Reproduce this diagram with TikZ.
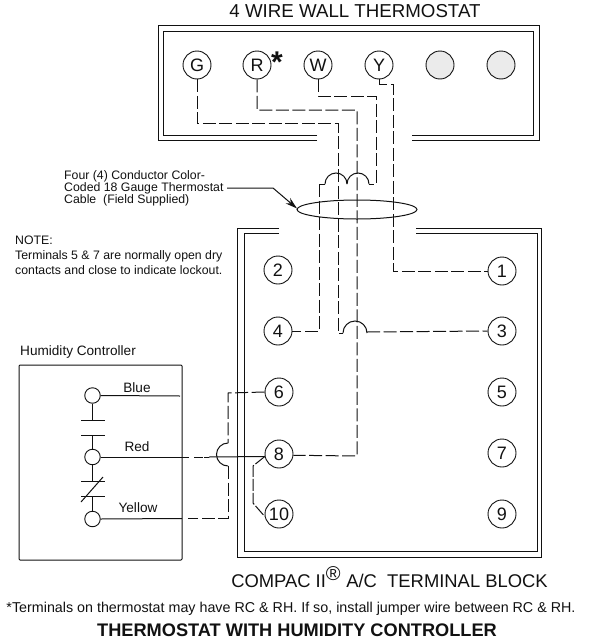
\documentclass[tikz,border=0pt]{standalone}
\usepackage{fontspec}
\setmainfont{Liberation Sans}
\usetikzlibrary{arrows.meta}
\definecolor{ink}{HTML}{111111}
\tikzset{
  x=1pt,y=-1pt,
  term/.style={draw=ink,circle,line width=.9pt,minimum size=28pt,inner sep=0pt,font=\fontsize{18}{18}\selectfont,text=ink},
  blank/.style={term,fill=black!8},
  small/.style={term,minimum size=15.5pt},
  wall/.style={draw=ink,line width=1pt},
  dwire/.style={draw=ink,line width=1pt,dash pattern=on 13pt off 3.5pt},
  swire/.style={draw=ink,line width=1pt},
  lab/.style={inner sep=0pt,text=ink,font=\fontsize{12.3}{12}\selectfont,align=left},
  hlab/.style={inner sep=0pt,text=ink,font=\fontsize{13.6}{14}\selectfont},
}
\begin{document}
\begin{tikzpicture}
\useasboundingbox (0,0) rectangle (590,640);
% thermostat
\draw[wall] (317,140) -- (158,140) -- (158,25) -- (539,25) -- (539,140) -- (412,140);
\draw[wall] (317,135) -- (163,135) -- (163,31) -- (533,31) -- (533,135) -- (412,135);
\node[term] (G) at (197,65) {G};
\node[term] (R) at (257,65) {R};
\node[term] (W) at (318,65) {W};
\node[term] (Y) at (379,65) {Y};
\node[blank] (b1) at (440,65) {};
\node[blank] (b2) at (501,65) {};
\node[inner sep=0pt,text=ink,font=\fontsize{30}{30}\bfseries\selectfont] (star) at (277,62) {*};
\node[inner sep=0pt,text=ink,font=\fontsize{18.7}{19}\selectfont] (title) at (355,11) {4 WIRE WALL THERMOSTAT};
% terminal block
\draw[wall] (279,228) -- (237,228) -- (237,557) -- (541,557) -- (541,228) -- (416,228);
\draw[wall] (279,233) -- (244,233) -- (244,551) -- (537,551) -- (537,233) -- (416,233);
\node[term] (t2) at (278,270) {2};
\node[term] (t4) at (278,331) {4};
\node[term] (t6) at (279,392) {6};
\node[term] (t8) at (279,454) {8};
\node[term] (t10) at (279,514) {10};
\node[term] (t1) at (502,271) {1};
\node[term] (t3) at (502,331) {3};
\node[term] (t5) at (502,392) {5};
\node[term] (t7) at (502,453) {7};
\node[term] (t9) at (502,514) {9};
% cable wires
\draw[dwire] (G.south) -- (197,123) -- (338,123) -- (338,333) -- (343,333);
\draw[swire] (343,333) arc[start angle=180,end angle=360,radius=12];
\draw[dwire] (367,332) -- (t3.west);
\draw[dwire] (R.south) -- (257,110) -- (357,110) -- (357,456) -- (t8.-5);
\draw[dwire] (W.south) -- (318,96) -- (376,96) -- (376,184) -- (369,184);
\draw[swire] (369,184) arc[start angle=0,end angle=-180,radius=11];
\draw[swire] (347,184) arc[start angle=0,end angle=-180,radius=11];
\draw[swire] (325,184) -- (319,184);
\draw[dwire] (319,184) -- (319,331) -- (t4.east);
\draw[dwire] (Y.south) -- (379,84) -- (393,84) -- (393,271) -- (t1.west);
\draw[ink,line width=1pt] (357,209.5) ellipse[x radius=60,y radius=9.5];
% cable label
\coordinate (arrowend) at (297,208.5);
\node[lab,anchor=west] (cable) at (64,188) {Four (4) Conductor Color-\\Coded 18 Gauge Thermostat\\Cable \ (Field Supplied)};
\coordinate (cablestart) at (227,188);
\coordinate (bend) at (273,188);
\draw[swire,-{Stealth[length=12pt,width=7pt]}] (cablestart) -- (bend) -- (arrowend);
\node[lab,anchor=west,font=\fontsize{12.3}{15}\selectfont] (note) at (15,255) {NOTE:\\Terminals 5 \& 7 are normally open dry\\contacts and close to indicate lockout.};
% humidity controller
\node[hlab,anchor=west] (hctitle) at (20,352) {Humidity Controller};
\draw[swire,rounded corners=1pt] (19,365) rectangle (182,560);
\node[small] (cb) at (92.5,395.5) {};
\node[small] (cr) at (92.5,457) {};
\node[small] (cy) at (92.5,519) {};
\coordinate (p1) at (92.5,420);
\coordinate (p2) at (92.5,435);
\coordinate (p3) at (92.5,481);
\coordinate (p4) at (92.5,496);
\coordinate (q1l) at (81,420); \coordinate (q1r) at (105,420);
\coordinate (q2l) at (81,435); \coordinate (q2r) at (105,435);
\coordinate (q3l) at (81,481); \coordinate (q3r) at (105,481);
\coordinate (q4l) at (81,496); \coordinate (q4r) at (105,496);
\draw[swire] (cb) -- (p1);
\draw[swire] (q1l) -- (q1r);
\draw[swire] (q2l) -- (q2r);
\draw[swire] (p2) -- (cr);
\draw[swire] (cr) -- (p3);
\draw[swire] (q3l) -- (q3r);
\draw[swire] (q4l) -- (q4r);
\draw[swire] (81,502) -- (103,477);
\draw[swire] (p4) -- (cy);
\draw[swire] (cb.east) -- (180,396);
\node[hlab] (blue) at (137,388) {Blue};
\node[hlab] (red) at (137,447) {Red};
\node[hlab] (yellow) at (138,508) {Yellow};
\draw[swire] (cr.east) -- (182,457);
\draw[swire] (cy.east) -- (182,518.5);
% humidity wires
\draw[draw=ink,line width=1pt,dash pattern=on 7pt off 5pt on 9pt off 1pt] (182,457) -- (209,457);
\draw[swire] (209,457) -- (t8.190);
\draw[dwire] (t6.west) -- (228,393) -- (228,443);
\draw[swire] (228,443) arc[start angle=-90,end angle=-270,radius=11.5];
\draw[dwire] (228,466) -- (228,518.5) -- (188,518.5);
\draw[dwire,dash pattern=on 12pt off 2pt] (t8.190) -- (253,466) -- (253,503) -- (t10.190);
% bottom
\node[inner sep=0pt,text=ink,font=\fontsize{18.4}{19}\selectfont] (cap) at (389.5,577) {COMPAC II\textsuperscript{\fontsize{20}{20}\selectfont ®} A/C \ TERMINAL BLOCK};
\node[inner sep=0pt,text=ink,font=\fontsize{14.3}{16}\selectfont] (fn) at (291,608.5) {*Terminals on thermostat may have RC \& RH. If so, install jumper wire between RC \& RH.};
\node[inner sep=0pt,text=ink,font=\fontsize{18.2}{19}\bfseries\selectfont] (ft) at (297,630.5) {THERMOSTAT WITH HUMIDITY CONTROLLER};
\end{tikzpicture}
\end{document}
